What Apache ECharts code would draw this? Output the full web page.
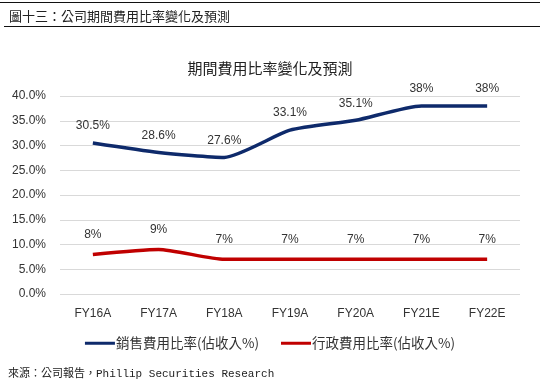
<!DOCTYPE html>
<html><head><meta charset="utf-8">
<script src="https://cdn.jsdelivr.net/npm/echarts@6/dist/echarts.min.js"></script>
<style>html,body{margin:0;padding:0;background:#fff}#c{width:540px;height:381px}</style>
</head><body><div id="c"></div>
<script>
const categories = ['FY16A','FY17A','FY18A','FY19A','FY20A','FY21E','FY22E'];
const sellingRatio = [30.5, 28.6, 27.6, 33.1, 35.1, 38, 38];
const sellingLabels = ['30.5%','28.6%','27.6%','33.1%','35.1%','38%','38%'];
const adminRatio = [8, 9, 7, 7, 7, 7, 7];
const adminLabels = ['8%','9%','7%','7%','7%','7%','7%'];
const seriesNames = ['銷售費用比率(佔收入%)','行政費用比率(佔收入%)'];

const chart = echarts.init(document.getElementById('c'));
const cjk = '"Noto Sans CJK TC","Noto Sans",sans-serif';
chart.setOption({
  animation: false,
  backgroundColor: '#fff',
  title: [
    {text: '圖十三：公司期間費用比率變化及預測', left: 4, top: 5,
     textStyle: {fontSize: 13, fontWeight: 'normal', color: '#222', fontFamily: cjk}},
    {text: '期間費用比率變化及預測', left: 'center', top: 56,
     textStyle: {fontSize: 15, fontWeight: 'normal', color: '#222', fontFamily: cjk}},
    {text: '來源：公司報告，Phillip Securities Research', left: 3, top: 364,
     textStyle: {fontSize: 11, fontWeight: 'normal', color: '#222', fontFamily: '"Liberation Mono","Noto Sans CJK TC",monospace'}}
  ],
  graphic: [
    {type: 'line', shape: {x1: 0, y1: 2.5, x2: 540, y2: 2.5}, style: {stroke: '#111', lineWidth: 1}},
    {type: 'line', shape: {x1: 4, y1: 26.5, x2: 540, y2: 26.5}, style: {stroke: '#111', lineWidth: 1}}
  ],
  legend: {
    data: [
      {name: seriesNames[0], itemStyle: {color: '#0e2a6b', opacity: 1}},
      {name: seriesNames[1], itemStyle: {color: '#c00000', opacity: 1}}
    ],
    bottom: 26, left: 'center', itemGap: 22,
    itemWidth: 30, itemHeight: 3, icon: 'rect',
    textStyle: {fontSize: 13.5, color: '#333', fontFamily: cjk, padding: [0,0,0,-4]}
  },
  grid: {left: 60, right: 20, top: 96, bottom: 87},
  xAxis: {
    type: 'category', data: categories, boundaryGap: true,
    axisLine: {show: false}, axisTick: {show: false},
    axisLabel: {color: '#333', fontSize: 12, margin: 14, fontFamily: '"Liberation Sans",sans-serif'}
  },
  yAxis: {
    type: 'value', min: 0, max: 40, interval: 5,
    axisLine: {show: false}, axisTick: {show: false},
    axisLabel: {color: '#333', fontSize: 12, margin: 14, formatter: v => v.toFixed(1) + '%',
      fontFamily: '"Liberation Sans",sans-serif'},
    splitLine: {lineStyle: {color: '#d9d9d9', width: 1}}
  },
  series: [
    {name: seriesNames[0], type: 'line', data: sellingRatio, smooth: 0.2,
     symbol: 'circle', symbolSize: 0.01, showSymbol: true,
     lineStyle: {color: '#0e2a6b', width: 3.5}, itemStyle: {color: '#0e2a6b'},
     label: {show: true, position: 'top', distance: 11, color: '#333', fontSize: 12,
       fontFamily: '"Liberation Sans",sans-serif',
       formatter: p => sellingLabels[p.dataIndex]}},
    {name: seriesNames[1], type: 'line', data: adminRatio, smooth: 0.2,
     symbol: 'circle', symbolSize: 0.01, showSymbol: true,
     lineStyle: {color: '#c00000', width: 3.5}, itemStyle: {color: '#c00000'},
     label: {show: true, position: 'top', distance: 14, color: '#333', fontSize: 12,
       fontFamily: '"Liberation Sans",sans-serif',
       formatter: p => adminLabels[p.dataIndex]}}
  ]
});
</script></body></html>
